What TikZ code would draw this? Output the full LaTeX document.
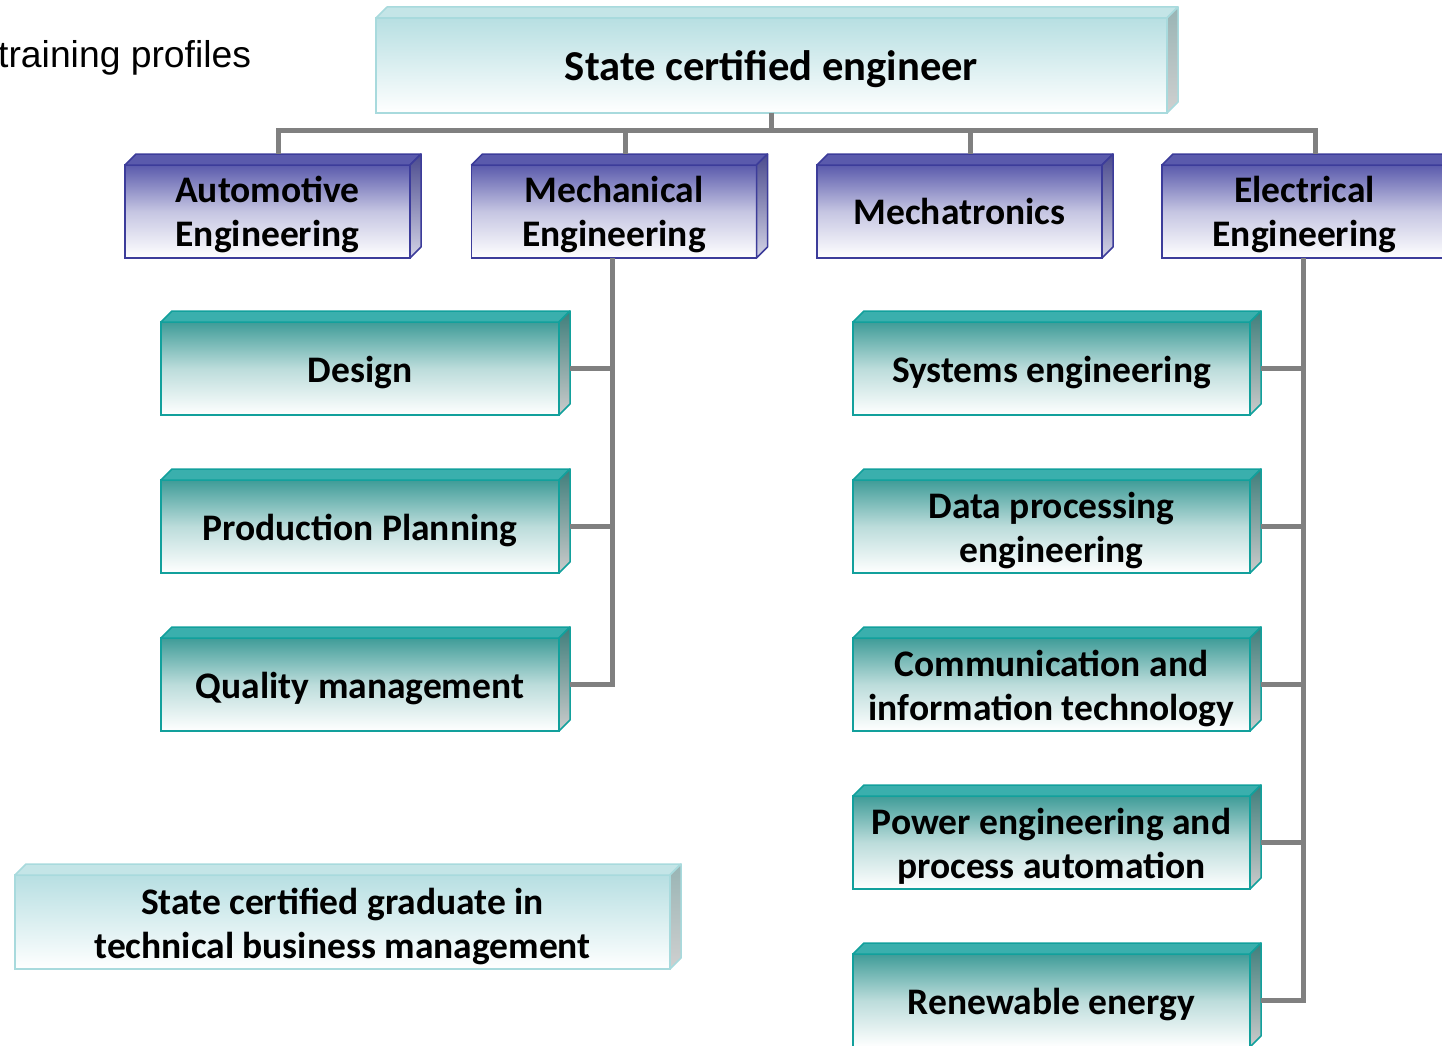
\documentclass[tikz,border=0pt]{standalone}
\usepackage{fontspec}
\setmainfont{Carlito}
\newfontfamily\arialf{Liberation Sans}
\definecolor{bluebd}{HTML}{3C3C9A}
\definecolor{bluetop}{HTML}{5A5AAC}
\definecolor{bluesideA}{HTML}{4A4A8E}
\definecolor{bluesideB}{HTML}{D4D4E6}
\definecolor{tealbd}{HTML}{12A09C}
\definecolor{tealfront}{HTML}{3F9C98}
\definecolor{tealtop}{HTML}{3AAFAD}
\definecolor{tealsideA}{HTML}{3E7E7B}
\definecolor{tealsideB}{HTML}{CCCCCC}
\definecolor{cyanbd}{HTML}{A8DADD}
\definecolor{cyanfront}{HTML}{B7DFE2}
\definecolor{cyantop}{HTML}{C4E5E7}
\definecolor{cyansideA}{HTML}{98B4B4}
\definecolor{cyansideB}{HTML}{D0D0D0}
\definecolor{conncol}{HTML}{808080}
\newcommand\boxfaces[5]{%
  \path[draw=#5, line width=1.5pt, fill=#2, line join=round]
    (#1.north west) -- ([shift={(11,-11)}]#1.north west) -- ([shift={(11,-11)}]#1.north east) -- (#1.north east) -- cycle;
  \path[draw=#5, line width=1.5pt, top color=#3, bottom color=#4, line join=round]
    (#1.north east) -- ([shift={(11,-11)}]#1.north east) -- ([shift={(11,-11)}]#1.south east) -- (#1.south east) -- cycle;
}
\newcommand\lowtext[2][-5pt]{\raisebox{#1}[\height][\depth]{\begin{tabular}{@{}c@{}}#2\end{tabular}}}
\begin{document}
\begin{tikzpicture}[x=1pt,y=-1pt,
  txt/.style={font=\bfseries\fontsize{37.5}{44.5}\selectfont, align=center, text=black, outer sep=0pt, inner sep=0pt, line width=1.5pt},
  bluebox/.style={txt, draw=bluebd, top color=bluetop, bottom color=white, middle color=bluetop!35!white, minimum width=285pt, minimum height=93pt},
  tealbox/.style={txt, draw=tealbd, top color=tealfront, bottom color=white, middle color=tealfront!35!white, minimum width=398pt, minimum height=93pt},
  cyanbox/.style={txt, draw=cyanbd, top color=cyanfront, bottom color=white},
  conn/.style={draw=conncol, line width=5pt}
]
\useasboundingbox (0,0) rectangle (1442,1046);
\begin{scope}
\clip (0,0) rectangle (1442,1046);
% title text
\node[font=\arialf\fontsize{37.3}{42}\selectfont, anchor=base west, inner sep=0pt] (title) at (-2,68) {training profiles};

% nodes
\node[cyanbox, minimum width=791pt, minimum height=95pt, font=\bfseries\fontsize{42.6}{50}\selectfont] (top) at (771.5,65.5) {\lowtext{State certified engineer}};

\node[bluebox] (auto) at (267.5,211.5) {\lowtext[-4pt]{Automotive\\Engineering}};
\node[bluebox] (mech) at (614,211.5) {\lowtext[-4pt]{Mechanical\\Engineering}};
\node[bluebox] (mtr) at (959.5,211.5) {\lowtext[-4pt]{Mechatronics}};
\node[bluebox] (elec) at (1304.5,211.5) {\lowtext[-4pt]{Electrical\\Engineering}};

\node[tealbox] (design) at (360,368.5) {\lowtext{Design}};
\node[tealbox] (prod) at (360,526.5) {\lowtext{Production Planning}};
\node[tealbox] (qual) at (360,684.5) {\lowtext{Quality management}};

\node[tealbox, minimum width=397pt] (sys) at (1051.5,368.5) {\lowtext{Systems engineering}};
\node[tealbox, minimum width=397pt] (data) at (1051.5,526.5) {\lowtext{Data processing\\engineering}};
\node[tealbox, minimum width=397pt] (comm) at (1051.5,684.5) {\lowtext{Communication and\\information technology}};
\node[tealbox, minimum width=397pt] (power) at (1051.5,842.5) {\lowtext{Power engineering and\\process automation}};
\node[tealbox, minimum width=397pt] (renew) at (1051.5,1000.5) {\lowtext{Renewable energy}};

\node[cyanbox, minimum width=655pt, minimum height=94pt] (grad) at (342.5,922) {\lowtext[-5.5pt]{State certified graduate in\\technical business management}};

% 3D faces
\boxfaces{top}{cyantop}{cyansideA}{cyansideB}{cyanbd}
\boxfaces{grad}{cyantop}{cyansideA}{cyansideB}{cyanbd}
\foreach \n in {auto,mech,mtr,elec}{\boxfaces{\n}{bluetop}{bluesideA}{bluesideB}{bluebd}}
\foreach \n in {design,prod,qual,sys,data,comm,power,renew}{\boxfaces{\n}{tealtop}{tealsideA}{tealsideB}{tealbd}}

% connectors
\coordinate (autoT) at ([shift={(11,-11)}]auto.north);
\coordinate (mechT) at ([shift={(11,-11)}]mech.north);
\coordinate (mtrT) at ([shift={(11,-11)}]mtr.north);
\coordinate (elecT) at ([shift={(11,-11)}]elec.north);
\draw[conn] (top.south) -- ++(0,18) -| (autoT);
\draw[conn] (top.south) -- ++(0,18) -| (mechT);
\draw[conn] (top.south) -- ++(0,18) -| (mtrT);
\draw[conn] (top.south) -- ++(0,18) -| (elecT);

\draw[conn] ([xshift=-2pt]mech.south) |- ([xshift=11pt]qual.east);
\draw[conn] ([xshift=11pt]design.east) -| ([xshift=-2pt]mech.south);
\draw[conn] ([xshift=11pt]prod.east) -| ([xshift=-2pt]mech.south);

\draw[conn] ([xshift=-1.5pt]elec.south) |- ([xshift=11pt]renew.east);
\foreach \n in {sys,data,comm,power}{\draw[conn] ([xshift=11pt]\n.east) -| ([xshift=-1.5pt]elec.south);}
\end{scope}
\end{tikzpicture}
\end{document}
